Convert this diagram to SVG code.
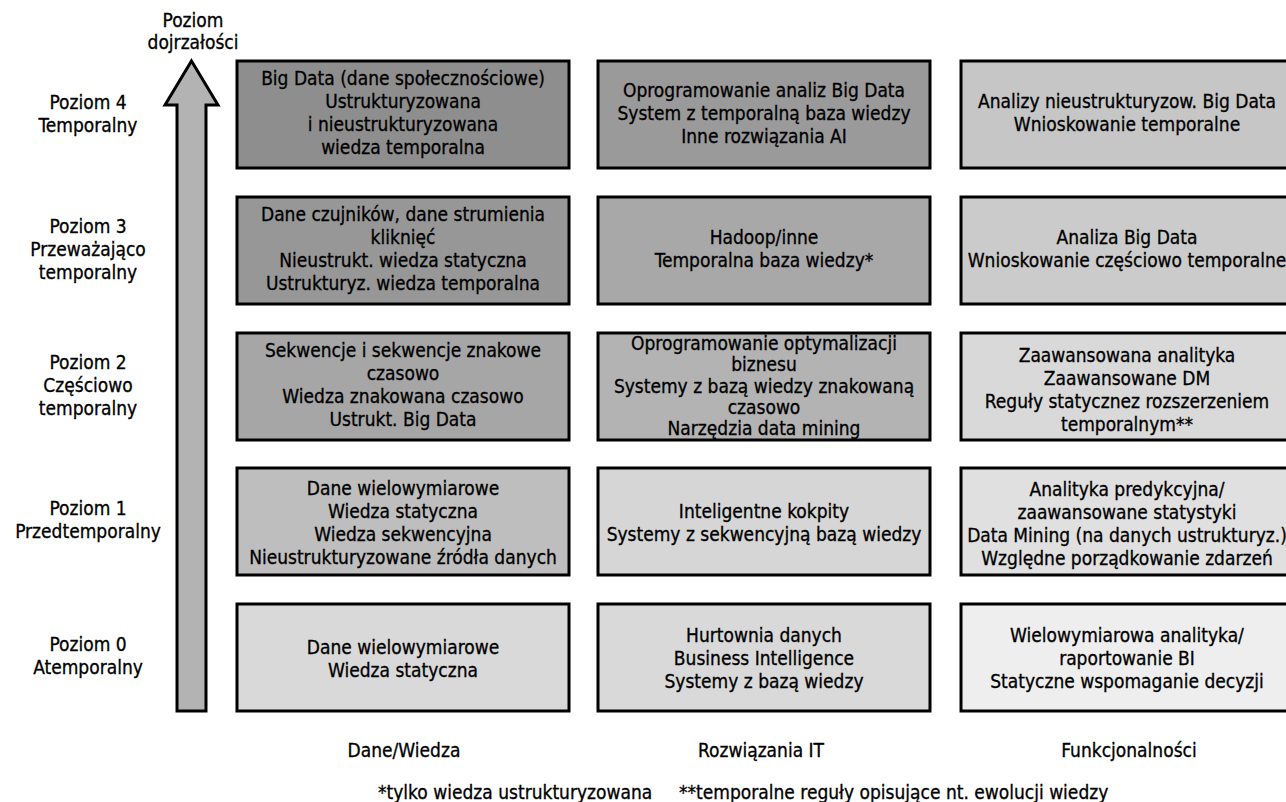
<svg xmlns="http://www.w3.org/2000/svg" width="1286" height="802" viewBox="0 0 1286 802">
<style>
text{font-family:"DejaVu Sans Condensed","DejaVu Sans",sans-serif;font-size:19px;fill:#000;stroke:#000;stroke-width:0.3;text-anchor:middle}
.s{text-anchor:start}
.b{stroke:#000;stroke-width:3}
</style>
<rect width="1286" height="802" fill="#fff"/>
<g id="axis">
<path class="b" d="M191.5,61 L218,105 L206,105 L206,711 L177,711 L177,105 L165,105 Z" fill="#b3b3b3"/>
<text x="193" y="27">Poziom</text>
<text x="193" y="49">dojrzałości</text>
</g>
<g id="levels">
<text x="88" y="109">Poziom 4</text><text x="88" y="132">Temporalny</text>
<text x="88" y="233">Poziom 3</text><text x="88" y="256">Przeważająco</text><text x="88" y="279">temporalny</text>
<text x="88" y="369">Poziom 2</text><text x="88" y="392">Częściowo</text><text x="88" y="415">temporalny</text>
<text x="88" y="515">Poziom 1</text><text x="88" y="538">Przedtemporalny</text>
<text x="88" y="651">Poziom 0</text><text x="88" y="674">Atemporalny</text>
</g>
<g id="r4c1"><rect class="b" x="237" y="61" width="332" height="107" fill="#8e8e8e"/>
<text x="403" y="85">Big Data (dane społecznościowe)</text><text x="403" y="108">Ustrukturyzowana</text><text x="403" y="131">i nieustrukturyzowana</text><text x="403" y="154">wiedza temporalna</text></g>
<g id="r4c2"><rect class="b" x="598" y="61" width="332" height="107" fill="#9a9a9a"/>
<text x="764" y="97">Oprogramowanie analiz Big Data</text><text x="764" y="120">System z temporalną baza wiedzy</text><text x="764" y="143">Inne rozwiązania AI</text></g>
<g id="r4c3"><rect class="b" x="961" y="61" width="340" height="107" fill="#c6c6c6"/>
<text x="1127" y="108">Analizy nieustrukturyzow. Big Data</text><text x="1127" y="131">Wnioskowanie temporalne</text></g>

<g id="r3c1"><rect class="b" x="237" y="197" width="332" height="107" fill="#979797"/>
<text x="403" y="221">Dane czujników, dane strumienia</text><text x="403" y="244">kliknięć</text><text x="403" y="267">Nieustrukt. wiedza statyczna</text><text x="403" y="290">Ustrukturyz. wiedza temporalna</text></g>
<g id="r3c2"><rect class="b" x="598" y="197" width="332" height="107" fill="#a8a8a8"/>
<text x="764" y="244">Hadoop/inne</text><text x="764" y="267">Temporalna baza wiedzy*</text></g>
<g id="r3c3"><rect class="b" x="961" y="197" width="340" height="107" fill="#cbcbcb"/>
<text x="1127" y="244">Analiza Big Data</text><text x="1127" y="267">Wnioskowanie częściowo temporalne</text></g>

<g id="r2c1"><rect class="b" x="237" y="333" width="332" height="107" fill="#a6a6a6"/>
<text x="403" y="357">Sekwencje i sekwencje znakowe</text><text x="403" y="380">czasowo</text><text x="403" y="403">Wiedza znakowana czasowo</text><text x="403" y="426">Ustrukt. Big Data</text></g>
<g id="r2c2"><rect class="b" x="598" y="333" width="332" height="107" fill="#b3b3b3"/>
<text x="764" y="350">Oprogramowanie optymalizacji</text><text x="764" y="371">biznesu</text><text x="764" y="392.5">Systemy z bazą wiedzy znakowaną</text><text x="764" y="414">czasowo</text><text x="764" y="435">Narzędzia data mining</text></g>
<g id="r2c3"><rect class="b" x="961" y="333" width="340" height="107" fill="#d9d9d9"/>
<text x="1127" y="362">Zaawansowana analityka</text><text x="1127" y="385">Zaawansowane DM</text><text x="1127" y="408">Reguły statycznez rozszerzeniem</text><text x="1127" y="431">temporalnym**</text></g>

<g id="r1c1"><rect class="b" x="237" y="468" width="332" height="107" fill="#bebebe"/>
<text x="403" y="495">Dane wielowymiarowe</text><text x="403" y="518">Wiedza statyczna</text><text x="403" y="541">Wiedza sekwencyjna</text><text x="403" y="564">Nieustrukturyzowane źródła danych</text></g>
<g id="r1c2"><rect class="b" x="598" y="468" width="332" height="107" fill="#d6d6d6"/>
<text x="764" y="518">Inteligentne kokpity</text><text x="764" y="541">Systemy z sekwencyjną bazą wiedzy</text></g>
<g id="r1c3"><rect class="b" x="961" y="468" width="340" height="107" fill="#e0e0e0"/>
<text x="1127" y="496">Analityka predykcyjna/</text><text x="1127" y="519">zaawansowane statystyki</text><text x="1127" y="542">Data Mining (na danych ustrukturyz.)</text><text x="1127" y="565">Względne porządkowanie zdarzeń</text></g>

<g id="r0c1"><rect class="b" x="237" y="604" width="332" height="107" fill="#d9d9d9"/>
<text x="403" y="654">Dane wielowymiarowe</text><text x="403" y="677">Wiedza statyczna</text></g>
<g id="r0c2"><rect class="b" x="598" y="604" width="332" height="107" fill="#d9d9d9"/>
<text x="764" y="642">Hurtownia danych</text><text x="764" y="665">Business Intelligence</text><text x="764" y="688">Systemy z bazą wiedzy</text></g>
<g id="r0c3"><rect class="b" x="961" y="604" width="340" height="107" fill="#eeeeee"/>
<text x="1127" y="642">Wielowymiarowa analityka/</text><text x="1127" y="665">raportowanie BI</text><text x="1127" y="688">Statyczne wspomaganie decyzji</text></g>

<g id="connectors"></g>
<g id="footer">
<text x="404" y="757">Dane/Wiedza</text>
<text class="s" x="698" y="757">Rozwiązania IT</text>
<text x="1129" y="757">Funkcjonalności</text>
<text class="s" x="378" y="799">*tylko wiedza ustrukturyzowana</text>
<text class="s" x="679" y="799">**temporalne reguły opisujące nt. ewolucji wiedzy</text>
</g>
</svg>
